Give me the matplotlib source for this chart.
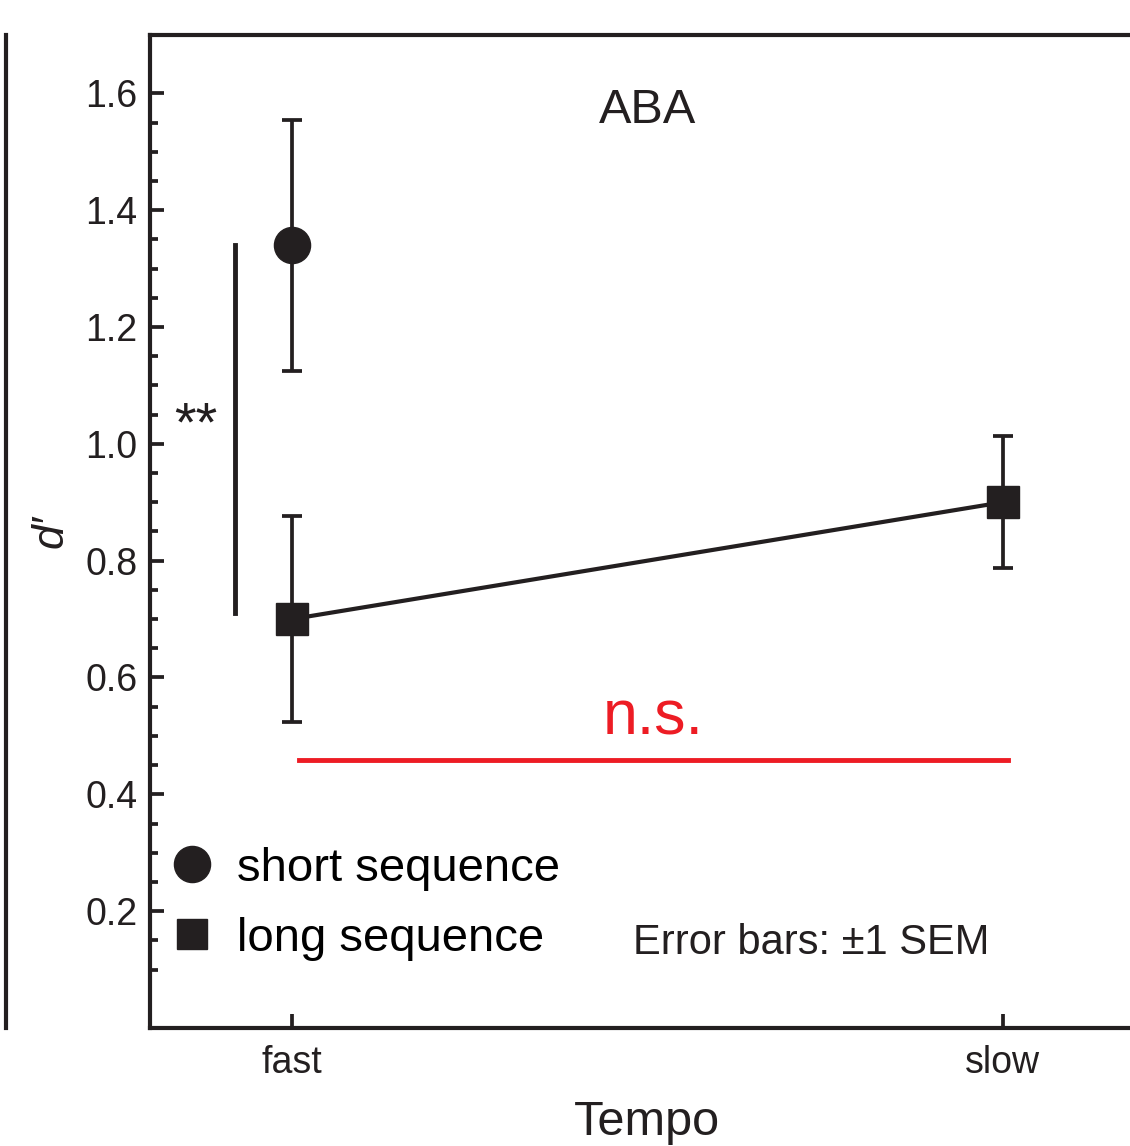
import matplotlib.pyplot as plt
from matplotlib.ticker import FixedLocator
from matplotlib.lines import Line2D

plt.rcParams['font.family'] = ['Liberation Sans', 'DejaVu Sans']

tempo = ['fast', 'slow']
short_mean = [1.34]
short_sem = [0.215]
long_mean = [0.70, 0.90]
long_sem = [0.177, 0.113]

ink = '#231f20'
fig = plt.figure(figsize=(11.3, 11.46), dpi=100)
ax = fig.add_axes([0.1327, 0.1030, 0.8805, 0.8665])

x = [0, 1]
# long sequence line + markers
ax.errorbar(x, long_mean, yerr=long_sem, color=ink, lw=3, elinewidth=2.7,
            capsize=7.5, capthick=2.7, marker='s', ms=23, mfc=ink, mec=ink, zorder=3)
ax.errorbar([0], short_mean, yerr=short_sem, color=ink, ls='none', elinewidth=2.7,
            capsize=7.5, capthick=2.7, marker='o', ms=26, mfc=ink, mec=ink, zorder=3)

# significance markers
ax.plot([-0.08, -0.08], [0.71, 1.34], color=ink, lw=3.5)
ax.text(-0.135, 1.03, '**', fontsize=40, ha='center', va='center', color=ink)
ax.plot([0.01, 1.007], [0.458, 0.458], color='#ed1c24', lw=3.5)
ax.text(0.508, 0.53, 'n.s.', fontsize=45, ha='center', va='center', color='#ed1c24')

ax.text(0.5, 1.57, 'ABA', fontsize=35, ha='center', va='center', color=ink)
ax.text(0.731, 0.145, 'Error bars: \u00b11 SEM', fontsize=30, ha='center', va='center', color=ink)

handles = [Line2D([], [], marker='o', ls='none', color=ink, ms=26),
           Line2D([], [], marker='s', ls='none', color=ink, ms=22)]
ax.legend(handles, ['short sequence', 'long sequence'], loc='lower left',
          bbox_to_anchor=(-0.01, 0.044), frameon=False, fontsize=34,
          handletextpad=0.35, labelspacing=0.55, borderaxespad=0.1, handlelength=1.2)

ax.set_xlim(-0.2, 1.2)
ax.set_ylim(0, 1.7)
ax.set_xticks(x)
ax.set_xticklabels(tempo)
ax.set_yticks([0.2, 0.4, 0.6, 0.8, 1.0, 1.2, 1.4, 1.6])
ax.yaxis.set_minor_locator(FixedLocator([0.1 + 0.05 * i for i in range(30)]))
ax.tick_params(axis='both', which='major', direction='in', length=10, width=2.7,
               labelsize=27, colors=ink, pad=9)
ax.tick_params(axis='x', which='major', pad=12)
ax.tick_params(axis='y', which='minor', direction='in', length=6, width=2.7, color=ink)
ax.set_xlabel('Tempo', fontsize=35, color=ink, labelpad=14)
ax.set_ylabel("d\u2032", fontsize=32, style='italic', color=ink, labelpad=10)
for s in ax.spines.values():
    s.set_linewidth(3)
    s.set_color(ink)

# edge of neighbouring panel
fig.add_artist(Line2D([0.005, 0.005], [0.1030, 0.9695], color=ink, lw=3))

fig.savefig('out.png', dpi=100)
